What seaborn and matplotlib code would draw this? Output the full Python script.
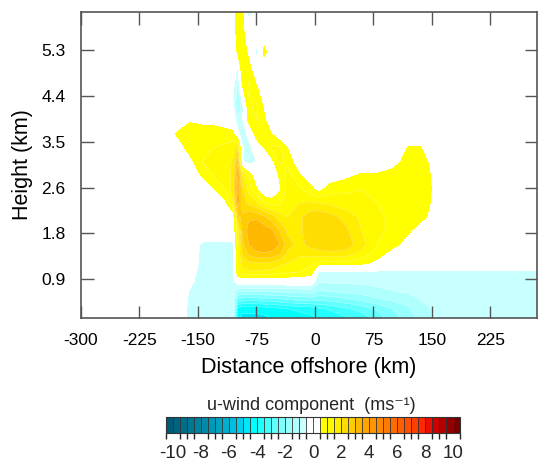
import numpy as np
import matplotlib
matplotlib.use("Agg")
import matplotlib.pyplot as plt
from matplotlib.colors import ListedColormap, BoundaryNorm
from matplotlib.cm import ScalarMappable
import seaborn as sns

# grid columns: distance offshore (km)
distance_km = [-300, -200, -175, -160, -145, -130, -115, -105, -99, -93, -85, -75, -65, -55,
               -45, -35, -20, -5, 5, 20, 40, 60, 80, 100, 120, 135, 150, 175, 200, 250, 300]
# grid rows: vertical level (0 = surface)
level = [0, 1, 2, 3, 4, 5, 6, 7, 8, 9.5, 11, 12.5, 14, 15.5, 17, 18.5, 20, 21.5, 23, 25, 27, 29, 31, 33.5]

# u-wind component (m/s), one row per level, bottom to top
u_wind = [
    [0, 0, 0, -0.7, -0.8, -0.8, -0.8, -0.9, -4.4, -4.6, -4.6, -4.6, -4.6, -4.5, -4.4, -4.3, -4.2, -4.1, -4.0, -3.9, -3.6, -3.3, -2.8, -2.2, -1.8, -1.3, -1.0, -0.9, -0.8, -0.8, -0.7],
    [0, 0, 0, -0.7, -0.8, -0.8, -0.8, -0.9, -4.2, -4.4, -4.4, -4.4, -4.3, -4.2, -4.1, -4.0, -3.9, -3.8, -3.6, -3.4, -3.1, -2.8, -2.4, -2.0, -1.6, -1.2, -1.0, -0.9, -0.8, -0.8, -0.7],
    [0, 0, 0, -0.65, -0.8, -0.8, -0.8, -0.85, -2.6, -2.8, -2.8, -2.8, -2.7, -2.7, -2.6, -2.5, -2.4, -2.3, -2.4, -2.3, -2.1, -1.9, -1.6, -1.4, -1.2, -1.0, -0.9, -0.8, -0.8, -0.8, -0.7],
    [0, 0, 0, -0.55, -0.8, -0.8, -0.8, -0.8, -1.3, -1.3, -1.3, -1.3, -1.3, -1.3, -1.3, -1.2, -1.2, -1.1, -1.5, -1.4, -1.3, -1.2, -1.1, -1.0, -0.9, -0.9, -0.8, -0.8, -0.8, -0.8, -0.7],
    [0, 0, 0, -0.35, -0.8, -0.8, -0.8, -0.7, 0, 0, 0, 0, 0, 0, 0, 0, 0, 0, -0.9, -0.9, -0.9, -0.9, -0.85, -0.8, -0.8, -0.8, -0.8, -0.8, -0.8, -0.8, -0.7],
    [0, 0, 0, -0.2, -0.75, -0.8, -0.8, -0.7, 0.9, 1.3, 1.4, 1.4, 1.4, 1.3, 1.2, 1.1, 1.0, 0.8, -0.6, -0.6, -0.6, -0.6, -0.6, -0.6, -0.6, -0.6, -0.6, -0.6, -0.6, -0.6, -0.55],
    [0, 0, 0, 0, -0.7, -0.8, -0.8, -0.7, 1.1, 1.7, 1.9, 2.0, 2.0, 1.9, 1.7, 1.5, 1.3, 1.1, 0.8, 0.8, 0.8, 0.7, 0.3, 0, 0, 0, 0, 0, 0, 0, 0],
    [0, 0, 0, 0, -0.7, -0.8, -0.8, -0.7, 1.1, 2.1, 2.6, 2.9, 2.95, 2.9, 2.6, 1.9, 1.6, 1.7, 1.8, 1.9, 1.8, 1.3, 0.8, 0.2, 0, 0, 0, 0, 0, 0, 0],
    [0, 0, 0, 0, -0.6, -0.65, -0.65, -0.6, 1.2, 2.4, 3.0, 3.3, 3.4, 3.3, 3.0, 2.2, 1.8, 2.2, 2.3, 2.3, 2.3, 1.7, 1.0, 0.7, 0.2, 0, 0, 0, 0, 0, 0],
    [0, 0, 0, 0, 0, 0, 0, 0, 1.2, 2.6, 3.2, 3.4, 3.3, 3.1, 2.5, 1.9, 1.9, 2.3, 2.4, 2.4, 2.1, 1.5, 1.1, 0.9, 0.6, 0.2, 0, 0, 0, 0, 0],
    [0, 0, 0, 0, 0, 0, 0, 0, 2.4, 2.6, 2.9, 2.9, 2.6, 2.2, 1.7, 1.5, 1.9, 2.3, 2.4, 2.2, 1.8, 1.4, 1.1, 0.9, 0.8, 0.7, 0.35, 0, 0, 0, 0],
    [0, 0, 0, 0, 0, 0, 0.35, 1.4, 3.3, 2.2, 1.9, 1.6, 1.0, 0.8, 0.9, 1.3, 1.5, 1.6, 1.5, 1.4, 1.2, 1.1, 1.0, 0.9, 0.9, 0.8, 0.45, 0, 0, 0, 0],
    [0, 0, 0, 0, 0, 0.45, 1.0, 1.8, 3.7, 2.1, 1.3, 0.6, -0.1, -0.1, 0.4, 1.2, 1.1, 0.65, 0.3, 0.8, 0.9, 1.0, 1.0, 1.0, 1.0, 0.9, 0.48, 0, 0, 0, 0],
    [0, 0, 0, 0, 0.55, 1.0, 1.1, 1.7, 3.5, 1.7, 0.9, 0.0, -0.2, -0.1, 0.6, 1.2, 0.6, 0.1, 0.0, 0.1, 0.35, 0.6, 0.6, 0.8, 1.0, 0.9, 0.45, 0, 0, 0, 0],
    [0, 0, 0, 0.3, 1.0, 1.1, 1.2, 1.6, 2.9, -0.4, -0.8, -0.5, 0.0, 0.3, 1.1, 0.9, 0, 0, 0, 0, 0, 0, 0, 0.2, 0.8, 0.9, 0.3, 0, 0, 0, 0],
    [0, 0, 0.2, 0.75, 1.0, 1.0, 1.1, 1.3, 2.0, -0.4, -0.8, 0.0, 0.5, 1.1, 1.1, 0.5, 0, 0, 0, 0, 0, 0, 0, 0, 0.55, 0.55, 0, 0, 0, 0, 0],
    [0, 0, 0.6, 1.0, 0.9, 0.9, 0.8, 0.7, -0.2, -0.9, -0.3, 0.8, 1.0, 0.5, 0, 0, 0, 0, 0, 0, 0, 0, 0, 0, 0, 0, 0, 0, 0, 0, 0],
    [0, 0, 0.2, 0.4, 0.3, 0.25, 0.1, 0.0, -0.9, -0.6, 0.7, 1.0, 0.6, 0, 0, 0, 0, 0, 0, 0, 0, 0, 0, 0, 0, 0, 0, 0, 0, 0, 0],
    [0, 0, 0, 0, 0, 0, 0, -0.3, -1.6, -0.7, 0.9, 1.1, 0.4, 0, 0, 0, 0, 0, 0, 0, 0, 0, 0, 0, 0, 0, 0, 0, 0, 0, 0],
    [0, 0, 0, 0, 0, 0, 0, -0.4, -1.2, 0.4, 1.1, 0.6, 0.0, 0, 0, 0, 0, 0, 0, 0, 0, 0, 0, 0, 0, 0, 0, 0, 0, 0, 0],
    [0, 0, 0, 0, 0, 0, 0, -0.2, -0.6, 1.0, 0.8, 0.0, 0.0, 0, 0, 0, 0, 0, 0, 0, 0, 0, 0, 0, 0, 0, 0, 0, 0, 0, 0],
    [0, 0, 0, 0, 0, 0, 0, 0.0, 0.6, 1.0, 0.3, -0.7, 0.7, 0, 0, 0, 0, 0, 0, 0, 0, 0, 0, 0, 0, 0, 0, 0, 0, 0, 0],
    [0, 0, 0, 0, 0, 0, 0, 0.0, 0.8, 0.7, 0.0, 0.0, 0.0, 0, 0, 0, 0, 0, 0, 0, 0, 0, 0, 0, 0, 0, 0, 0, 0, 0, 0],
    [0, 0, 0, 0, 0, 0, 0, 0.0, 0.9, 0.6, -0.9, -0.3, 0.0, 0, 0, 0, 0, 0, 0, 0, 0, 0, 0, 0, 0, 0, 0, 0, 0, 0, 0],
]

distance_ticks = [-300, -225, -150, -75, 0, 75, 150, 225]
height_ticks = [4.2, 9.2, 14.2, 19.2, 24.2, 29.2]
height_labels = ["0.9", "1.8", "2.6", "3.5", "4.4", "5.3"]
cbar_ticks = [-10, -8, -6, -4, -2, 0, 2, 4, 6, 8, 10]

# label bar colours: below -10, the 40 half-step bins, above 10
bar_colors = ["#005a78", "#00637f", "#006d89", "#007793", "#00819e", "#008ba9", "#0096b5",
              "#00a2c2", "#00afd0", "#00bedd", "#00ceeb", "#00e6fa", "#00ffff", "#20ffff",
              "#40ffff", "#60ffff", "#7dffff", "#98ffff", "#b0ffff", "#c8ffff", "#ffffff",
              "#ffffff", "#ffff00", "#fffa00", "#ffee00", "#ffdd00", "#ffcc00", "#ffb800",
              "#ffa500", "#ff9600", "#ff8800", "#ff7a00", "#ff6c00", "#ff5e00", "#ff4f00",
              "#ff3f00", "#ff2800", "#e81000", "#cc0000", "#b00000", "#930000", "#750000"]

sns.set_theme(style="white")
plt.rcParams["font.family"] = ["Liberation Sans", "DejaVu Sans"]
plt.rcParams["axes.unicode_minus"] = False

X, Y = np.meshgrid(distance_km, level)
U = np.array(u_wind)

levels = np.arange(-10, 10.01, 0.5)
cmap = ListedColormap(bar_colors[1:-1])
cmap.set_under(bar_colors[0])
cmap.set_over(bar_colors[-1])
norm = BoundaryNorm(levels, cmap.N)

fig = plt.figure(figsize=(5.39, 4.62), dpi=100)
ax = fig.add_axes([0.1503, 0.3117, 0.8460, 0.6623])
ax.contourf(X, Y, U, levels=levels, cmap=cmap, norm=norm, extend="both")
ax.contour(X, Y, U, levels=[l for l in levels if abs(l) >= 1], colors="white",
           linewidths=0.4, alpha=0.45)
ax.set_axisbelow(False)

ax.set_xlim(-300, 285)
ax.set_ylim(0, 33.3)
ax.set_xticks(distance_ticks)
ax.set_xticklabels([str(t) for t in distance_ticks])
ax.set_yticks(height_ticks)
ax.set_yticklabels(height_labels)
ax.tick_params(direction="in", length=9, width=1.0, color="#555555",
               bottom=True, left=True, top=True, right=True,
               labelsize=12.5, pad=11, labelcolor="black")
for s in ax.spines.values():
    s.set_color("#555555")
    s.set_linewidth(1.2)
ax.set_xlabel("Distance offshore (km)", fontsize=15.5, labelpad=6, color="black")
ax.set_ylabel("Height (km)", fontsize=15.5, labelpad=6, color="black")

# label bar with square end boxes
cax = fig.add_axes([0.308, 0.0628, 0.5455, 0.0346])
bar_bounds = np.arange(-10.5, 10.51, 0.5)
sm = ScalarMappable(norm=BoundaryNorm(bar_bounds, len(bar_colors)), cmap=ListedColormap(bar_colors))
cb = fig.colorbar(sm, cax=cax, orientation="horizontal", ticks=cbar_ticks, drawedges=True)
cb.dividers.set_color("#333333")
cb.dividers.set_linewidth(0.6)
cb.outline.set_edgecolor("#333333")
cb.outline.set_linewidth(0.8)
cax.tick_params(length=0, labelsize=13.5, pad=9)
cax.set_xticklabels([str(t) for t in cbar_ticks])
fig.text(311 / 539, 1 - 410 / 462, "u-wind component  (ms\u207b\u00b9)", ha="center",
         va="baseline", fontsize=13)

fig.savefig("out.png", dpi=100)
